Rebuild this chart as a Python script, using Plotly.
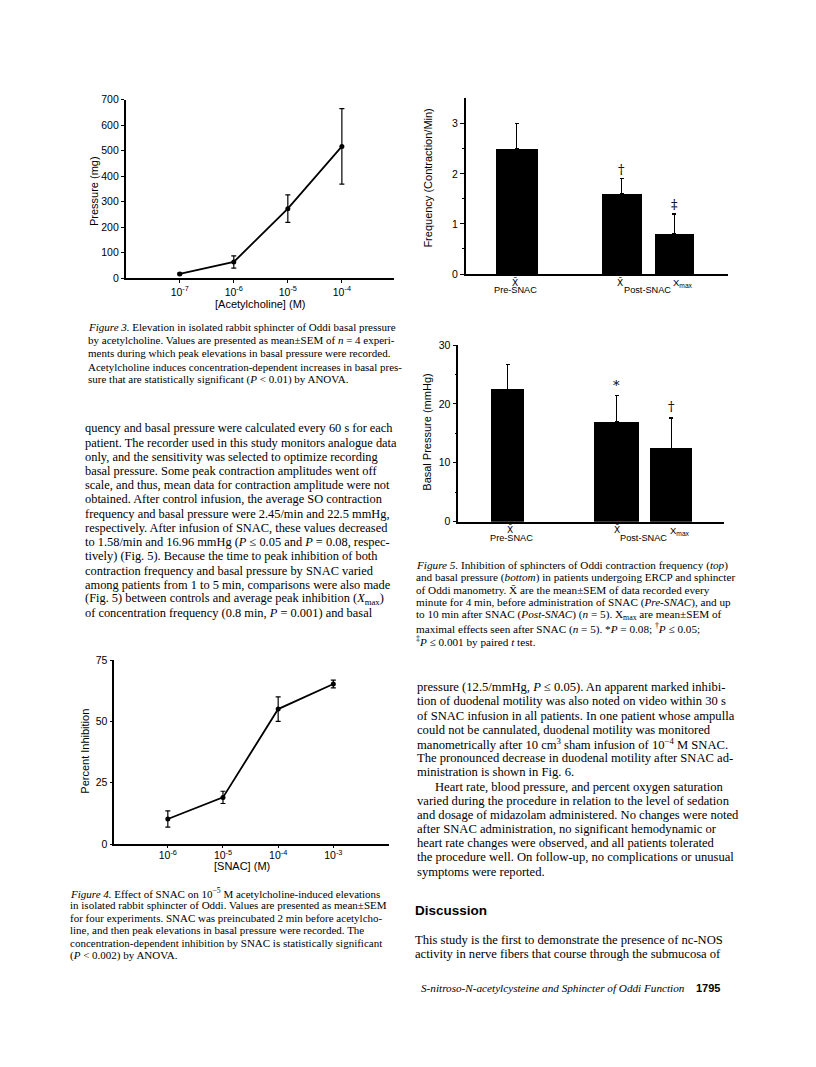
import plotly.graph_objects as go

# ---------------- data ----------------
# Figure 3: acetylcholine concentration vs pressure
ach_conc = [1e-7, 1e-6, 1e-5, 1e-4]
ach_pressure = [17, 64, 273, 517]
ach_sem = [3, 24, 54, 148]
ach_ticks = [1e-7, 1e-6, 1e-5, 1e-4]
ach_ticktext = ["10<sup>-7</sup>", "10<sup>-6</sup>", "10<sup>-5</sup>", "10<sup>-4</sup>"]

# Figure 4: SNAC concentration vs percent inhibition
snac_conc = [1e-6, 1e-5, 1e-4, 1e-3]
snac_inhib = [10.2, 19.0, 55.0, 65.2]
snac_sem = [3.3, 2.5, 5.0, 1.6]
snac_ticks = [1e-6, 1e-5, 1e-4, 1e-3]
snac_ticktext = ["10<sup>-6</sup>", "10<sup>-5</sup>", "10<sup>-4</sup>", "10<sup>-3</sup>"]

# Figure 5: bar groups (slot 1 left empty between Pre and Post)
bar_groups = ["Pre-SNAC X̄", "Post-SNAC X̄", "Post-SNAC Xmax"]
bar_slots = [0, 2, 3]
freq_mean = [2.5, 1.6, 0.8]
freq_sem = [0.5, 0.3, 0.4]
freq_marks = ["", "†", "‡"]
basal_mean = [22.5, 17.0, 12.45]
basal_sem = [4.2, 4.45, 5.15]
basal_marks = ["", "*", "†"]

# ---------------- page text ----------------
fig3_caption = [
    "<i>Figure 3.</i> Elevation in isolated rabbit sphincter of Oddi basal pressure",
    "by acetylcholine. Values are presented as mean±SEM of <i>n</i> = 4 experi-",
    "ments during which peak elevations in basal pressure were recorded.",
    "Acetylcholine induces concentration-dependent increases in basal pres-",
    "sure that are statistically significant (<i>P</i> &lt; 0.01) by ANOVA.",
]
left_body = [
    "quency and basal pressure were calculated every 60 s for each",
    "patient. The recorder used in this study monitors analogue data",
    "only, and the sensitivity was selected to optimize recording",
    "basal pressure. Some peak contraction amplitudes went off",
    "scale, and thus, mean data for contraction amplitude were not",
    "obtained. After control infusion, the average SO contraction",
    "frequency and basal pressure were 2.45/min and 22.5 mmHg,",
    "respectively. After infusion of SNAC, these values decreased",
    "to 1.58/min and 16.96 mmHg (<i>P</i> ≤ 0.05 and <i>P</i> = 0.08, respec-",
    "tively) (Fig. 5). Because the time to peak inhibition of both",
    "contraction frequency and basal pressure by SNAC varied",
    "among patients from 1 to 5 min, comparisons were also made",
    "(Fig. 5) between controls and average peak inhibition (<i>X</i><sub>max</sub>)",
    "of concentration frequency (0.8 min, <i>P</i> = 0.001) and basal",
]
fig4_caption = [
    "<i>Figure 4.</i> Effect of SNAC on 10<sup>−5</sup> M acetylcholine-induced elevations",
    "in isolated rabbit sphincter of Oddi. Values are presented as mean±SEM",
    "for four experiments. SNAC was preincubated 2 min before acetylcho-",
    "line, and then peak elevations in basal pressure were recorded. The",
    "concentration-dependent inhibition by SNAC is statistically significant",
    "(<i>P</i> &lt; 0.002) by ANOVA.",
]
fig5_caption = [
    "<i>Figure 5.</i> Inhibition of sphincters of Oddi contraction frequency (<i>top</i>)",
    "and basal pressure (<i>bottom</i>) in patients undergoing ERCP and sphincter",
    "of Oddi manometry. X̄ are the mean±SEM of data recorded every",
    "minute for 4 min, before administration of SNAC (<i>Pre-SNAC</i>), and up",
    "to 10 min after SNAC (<i>Post-SNAC</i>) (<i>n</i> = 5). X<sub>max</sub> are mean±SEM of",
    "maximal effects seen after SNAC (<i>n</i> = 5). *<i>P</i> = 0.08; <sup>†</sup><i>P</i> ≤ 0.05;",
    "<sup>‡</sup><i>P</i> ≤ 0.001 by paired <i>t</i> test.",
]
right_body = [
    "pressure (12.5/mmHg, <i>P</i> ≤ 0.05). An apparent marked inhibi-",
    "tion of duodenal motility was also noted on video within 30 s",
    "of SNAC infusion in all patients. In one patient whose ampulla",
    "could not be cannulated, duodenal motility was monitored",
    "manometrically after 10 cm<sup>3</sup> sham infusion of 10<sup>−4</sup> M SNAC.",
    "The pronounced decrease in duodenal motility after SNAC ad-",
    "ministration is shown in Fig. 6.",
    "Heart rate, blood pressure, and percent oxygen saturation",
    "varied during the procedure in relation to the level of sedation",
    "and dosage of midazolam administered. No changes were noted",
    "after SNAC administration, no significant hemodynamic or",
    "heart rate changes were observed, and all patients tolerated",
    "the procedure well. On follow-up, no complications or unusual",
    "symptoms were reported.",
]
discussion_lines = [
    "This study is the first to demonstrate the presence of nc-NOS",
    "activity in nerve fibers that course through the submucosa of",
]

# page body has an 8 px margin; the figure fills the rest of the window
OFF = 8
W, H = 816 - 2 * OFF, 1067 - 2 * OFF
SANS = "Liberation Sans"
SERIF = "Liberation Serif"


def fx(p):
    return (p - OFF) / W


def fy(p):
    return 1 - (p - OFF) / H


fig = go.Figure()

# ---- Figure 3 ----
fig.add_trace(go.Scatter(
    x=ach_conc, y=ach_pressure, mode="lines+markers",
    line=dict(color="black", width=1.8), marker=dict(color="black", size=5),
    error_y=dict(type="data", array=ach_sem, color="black", thickness=1.2, width=2.5),
    xaxis="x", yaxis="y", cliponaxis=False))

# ---- Figure 4 ----
fig.add_trace(go.Scatter(
    x=snac_conc, y=snac_inhib, mode="lines+markers",
    line=dict(color="black", width=1.8), marker=dict(color="black", size=5),
    error_y=dict(type="data", array=snac_sem, color="black", thickness=1.2, width=2.5),
    xaxis="x2", yaxis="y2", cliponaxis=False))

# ---- Figure 5 top ----
fig.add_trace(go.Bar(
    x=bar_slots, y=freq_mean, width=[0.80, 0.775, 0.76],
    marker=dict(color="black", line=dict(width=0)),
    error_y=dict(type="data", symmetric=False, array=freq_sem, arrayminus=[0, 0, 0],
                 color="black", thickness=1.3, width=2),
    hovertext=bar_groups, xaxis="x3", yaxis="y3"))

# ---- Figure 5 bottom ----
fig.add_trace(go.Bar(
    x=bar_slots, y=basal_mean, width=[0.61, 0.84, 0.765],
    marker=dict(color="black", line=dict(width=0)),
    error_y=dict(type="data", symmetric=False, array=basal_sem, arrayminus=[0, 0, 0],
                 color="black", thickness=1.3, width=2),
    hovertext=bar_groups, xaxis="x4", yaxis="y4"))

axis_common = dict(showline=True, linecolor="black", linewidth=1.6, showgrid=False,
                   zeroline=False, ticks="outside", tickcolor="black", tickwidth=1.2,
                   tickfont=dict(family=SANS, size=10.5, color="black"))

fig.update_layout(
    width=W, height=H, margin=dict(l=0, r=0, t=0, b=0, autoexpand=False),
    paper_bgcolor="white", plot_bgcolor="rgba(0,0,0,0)", showlegend=False,
    bargap=0,
    xaxis=dict(axis_common, domain=[fx(125.7), fx(394.3)], type="log", range=[-8, -3.03],
               tickvals=ach_ticks, ticktext=ach_ticktext, ticklen=3, anchor="y"),
    yaxis=dict(axis_common, domain=[fy(278.3), fy(99.7)], range=[0, 700], dtick=100,
               ticklen=3, anchor="x"),
    xaxis2=dict(axis_common, domain=[fx(114.3), fx(388.5)], type="log", range=[-6.97, -2.0],
                tickvals=snac_ticks, ticktext=snac_ticktext, ticklen=2,
                ticklabelstandoff=-1, anchor="y2"),
    yaxis2=dict(axis_common, domain=[fy(844), fy(660)], range=[0, 75],
                tickvals=[0, 25, 50, 75], ticklen=3, anchor="x2"),
    xaxis3=dict(axis_common, domain=[fx(465.7), fx(728.3)], range=[-0.97, 4.03],
                ticks="", showticklabels=False, anchor="y3"),
    yaxis3=dict(axis_common, domain=[fy(274), fy(97.7)], range=[0, 3.52],
                tickvals=[0, 1, 2, 3], ticklen=4, anchor="x3",
                minor=dict(tickvals=[0.5, 1.5, 2.5], ticks="outside", ticklen=2,
                           tickcolor="black")),
    xaxis4=dict(axis_common, domain=[fx(458.3), fx(724.3)], range=[-0.906, 3.97],
                ticks="", showticklabels=False, anchor="y4"),
    yaxis4=dict(axis_common, domain=[fy(521.7), fy(345)], range=[0, 30],
                tickvals=[0, 10, 20, 30], ticklen=4, anchor="x4",
                minor=dict(tickvals=[5, 15, 25], ticks="outside", ticklen=2,
                           tickcolor="black")),
)


def txt(x, y, text, size, family=SERIF, xanchor="left", angle=0):
    fig.add_annotation(xref="paper", yref="paper", x=fx(x), y=fy(y), text=text,
                       showarrow=False, xanchor=xanchor, yanchor="middle",
                       textangle=angle, font=dict(size=size, family=family, color="black"))


# axis titles
txt(93.3, 190.8, "Pressure (mg)", 11, SANS, "center", -90)
txt(260, 304, "[Acetylcholine] (M)", 11, SANS, "center")
txt(85, 751.7, "Percent Inhibition", 11, SANS, "center", -90)
txt(241.7, 865.5, "[SNAC] (M)", 11, SANS, "center")
txt(428.3, 178.3, "Frequency (Contraction/Min)", 11, SANS, "center", -90)
txt(426.7, 432, "Basal Pressure (mmHg)", 11, SANS, "center", -90)

# figure 5 category labels
XBAR = "X\u0304"
txt(515, 282, XBAR, 9, "DejaVu Sans", "center")
txt(515, 290, "Pre-SNAC", 9.2, SANS, "center")
txt(620, 282, XBAR, 9, "DejaVu Sans", "center")
txt(683, 283.5, "X<sub>max</sub>", 9.5, SANS, "center")
txt(647, 290, "Post-SNAC", 9.2, SANS, "center")

txt(510, 529.5, XBAR, 9, "DejaVu Sans", "center")
txt(511.7, 537.5, "Pre-SNAC", 9.2, SANS, "center")
txt(617.3, 529.5, XBAR, 9, "DejaVu Sans", "center")
txt(680, 531, "X<sub>max</sub>", 9.5, SANS, "center")
txt(643.3, 537.5, "Post-SNAC", 9.2, SANS, "center")

# significance marks on bars
for s, m, v, e in zip(bar_slots, freq_marks, freq_mean, freq_sem):
    if m:
        fig.add_annotation(xref="x3", yref="y3", x=s, y=v + e, text=m, showarrow=False,
                           yanchor="bottom", yshift=0,
                           font=dict(size=13, family="DejaVu Serif", color="black"))
for s, m, v, e in zip(bar_slots, basal_marks, basal_mean, basal_sem):
    if m:
        fig.add_annotation(xref="x4", yref="y4", x=s, y=v + e, text=m, showarrow=False,
                           yanchor="bottom", yshift=0 if m == "*" else 2,
                           font=dict(size=13, family="DejaVu Serif", color="black"))

# captions & body text
for i, line in enumerate(fig3_caption):
    txt(86, 326.7 + i * 13.3, line, 11)
for i, line in enumerate(left_body):
    txt(82.7, 428.3 + i * 14.23, line, 12.4)
for i, line in enumerate(fig4_caption):
    txt(68.3, 892.7 + i * 12.5, line, 11)
for i, line in enumerate(fig5_caption):
    txt(414, 565 + i * 12.6, line, 11.2)
for i, line in enumerate(right_body):
    txt(433.3 if i == 7 else 414.5, 687.3 + i * 14.18, line, 12.6)

txt(413, 910, "<b>Discussion</b>", 13.5, SANS)
for i, line in enumerate(discussion_lines):
    txt(413, 940 + i * 13.5, line, 12.6)

txt(419, 988.3, "<i>S-nitroso-N-acetylcysteine and Sphincter of Oddi Function</i>", 11.2)
txt(722, 988.3, "<b>1795</b>", 11, SANS, "right")

fig.write_html("out.html")
